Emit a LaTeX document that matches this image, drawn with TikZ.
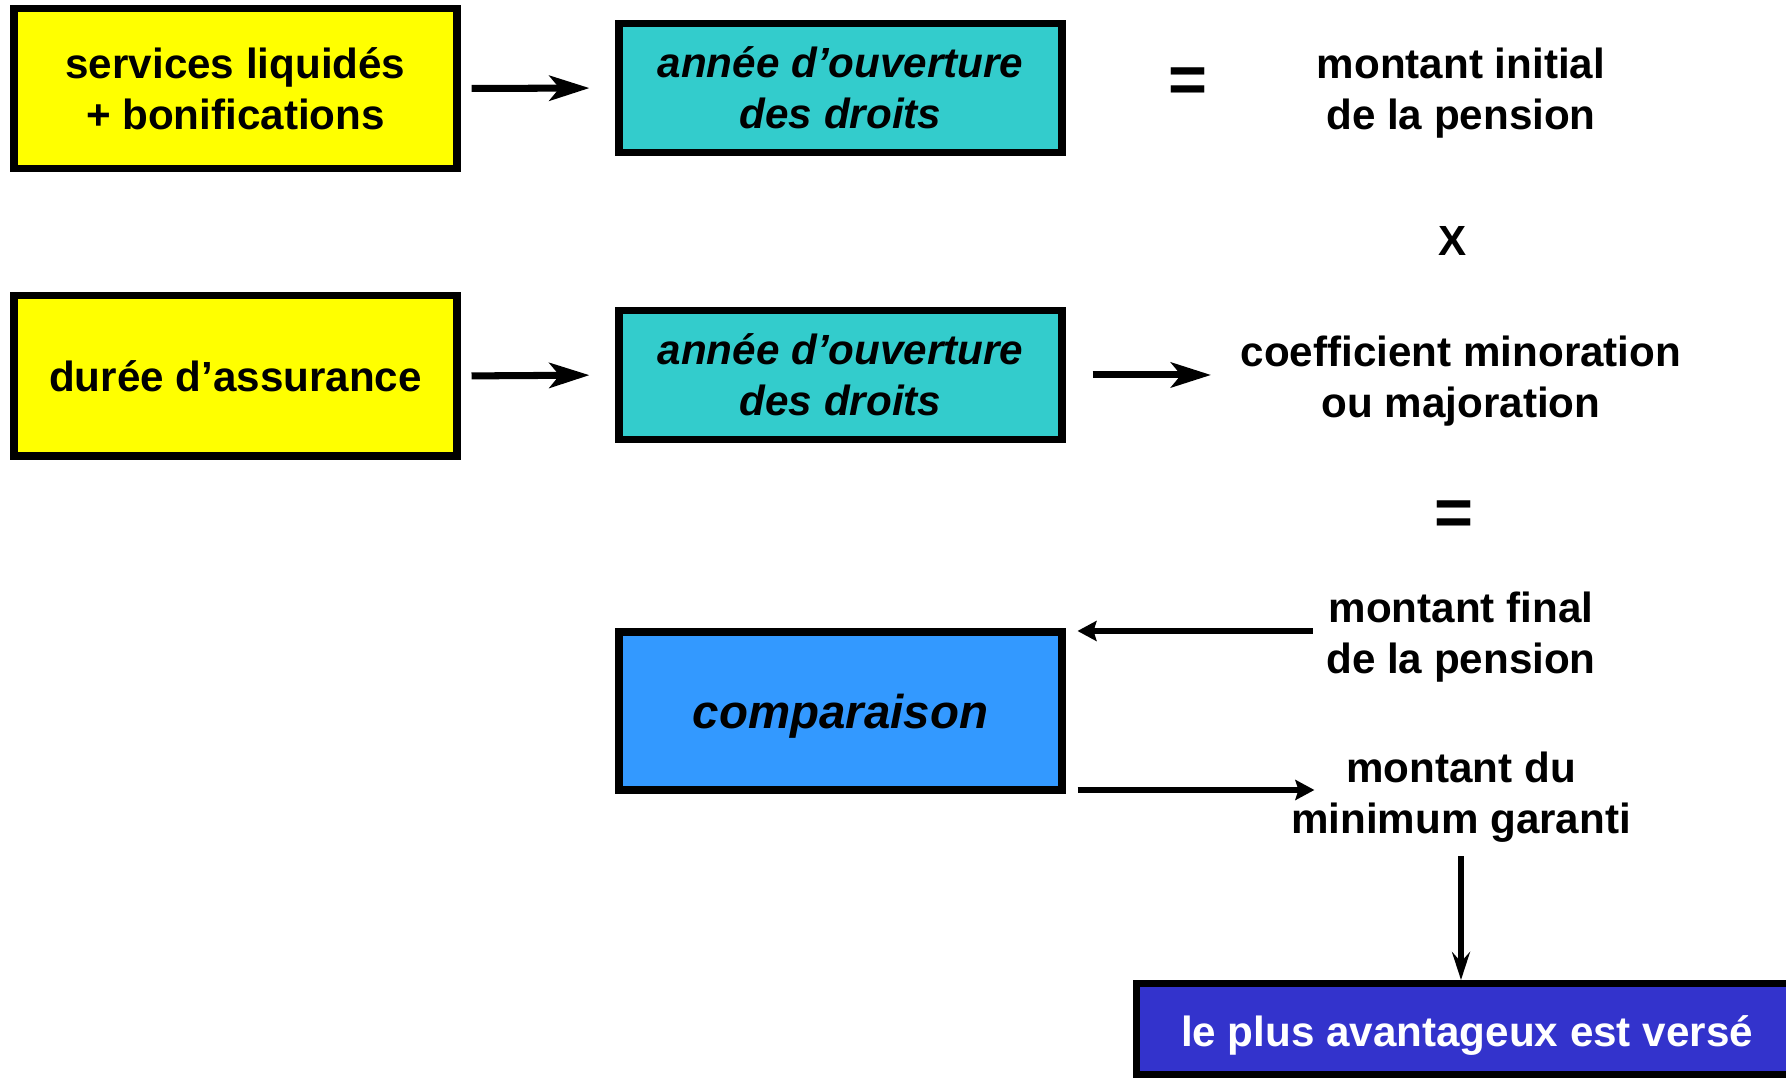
\documentclass[tikz,border=0pt]{standalone}
\usepackage{fontspec}
\setmainfont{Liberation Sans}
\usetikzlibrary{arrows.meta}
\definecolor{jaune}{HTML}{FFFF00}
\definecolor{turquoise}{HTML}{33CCCC}
\definecolor{bleuclair}{HTML}{3399FF}
\definecolor{bleufonce}{HTML}{3333CC}
\newcommand*{\boxW}{4.43cm}
\newcommand*{\colA}{2.355}
\newcommand*{\colB}{8.405}
\newcommand*{\colC}{14.61}

\begin{document}
\begin{tikzpicture}[
	every node/.style={font=\fontsize{12}{14.5}\selectfont\bfseries, inner sep=0pt, align=center},
	cadre/.style={draw, line width=2pt, minimum width=\boxW},
	source/.style={cadre, fill=jaune, minimum height=1.6cm},
	annee/.style={cadre, fill=turquoise, minimum height=1.29cm, font=\fontsize{12}{14.5}\selectfont\bfseries\itshape},
	egal/.style={font=\fontsize{19}{19}\selectfont\bfseries},
	fleche/.style={line width=2pt, -{Stealth[length=4mm, width=2.5mm, inset=1mm]}},
	fin/.style={line width=1.6pt, -{Stealth[length=1.9mm, width=2mm, inset=0.3mm]}},
	finbas/.style={line width=1.6pt, -{Stealth[length=2.8mm, width=1.8mm, inset=1mm]}},
	]
	\useasboundingbox (0,0) rectangle (17.86,-10.78);
	
	\node[source] (services) at (\colA,-0.885) {services liquidés\\+ bonifications};
	\node[source] (assurance) at (\colA,-3.76) {durée d’assurance};
	\node[annee] (ouverture1) at (\colB,-0.88) {année d’ouverture\\des droits};
	\node[annee] (ouverture2) at (\colB,-3.75) {année d’ouverture\\des droits};
	\node[cadre, fill=bleuclair, minimum height=1.58cm, text height=12.5pt, text depth=2.8pt, font=\fontsize{13.5}{16}\selectfont\bfseries\itshape] (comparaison) at (\colB,-7.11) {comparaison};
	\node[cadre, fill=bleufonce, text=white, minimum width=6.61cm, minimum height=0.91cm, text height=12.6pt, text depth=2.5pt] (verse) at (14.67,-10.29) {le plus avantageux est versé};
	
	\node[egal] (egal1) at (11.88,-0.85) {=};
	\node (initial) at (\colC,-0.935) {montant initial\\de la pension};
	\node (fois) at (14.53,-2.415) {X};
	\node (coef) at (\colC,-3.815) {coefficient minoration\\ou majoration};
	\node[egal] (egal2) at (14.54,-5.18) {=};
	\node (final) at (\colC,-6.375) {montant final\\de la pension};
	\node (garanti) at (\colC,-7.975) {montant du\\minimum garanti};
	
	\draw[fleche, shorten <=0.11cm, shorten >=0.26cm] (services.east) -- (ouverture1.west);
	\draw[fleche, shorten <=0.11cm, shorten >=0.26cm] (assurance.east) -- (ouverture2.west);
	\draw[fleche, shorten <=0.27cm, shorten >=0.29cm] (ouverture2.east) -- (ouverture2.east -| coef.west);
	\draw[fin, shorten <=0.13cm, shorten >=0.12cm] ([yshift=0.065cm]final.west) -- ([yshift=0.065cm]final.west -| comparaison.east);
	\draw[fin, shorten <=0.12cm] ([yshift=0.075cm]comparaison.east |- garanti.west) -- ([xshift=0.24cm, yshift=0.075cm]garanti.west);
	\draw[finbas, shorten <=0.13cm] (garanti.south) -- (garanti.south |- verse.north);
\end{tikzpicture}
\end{document}
